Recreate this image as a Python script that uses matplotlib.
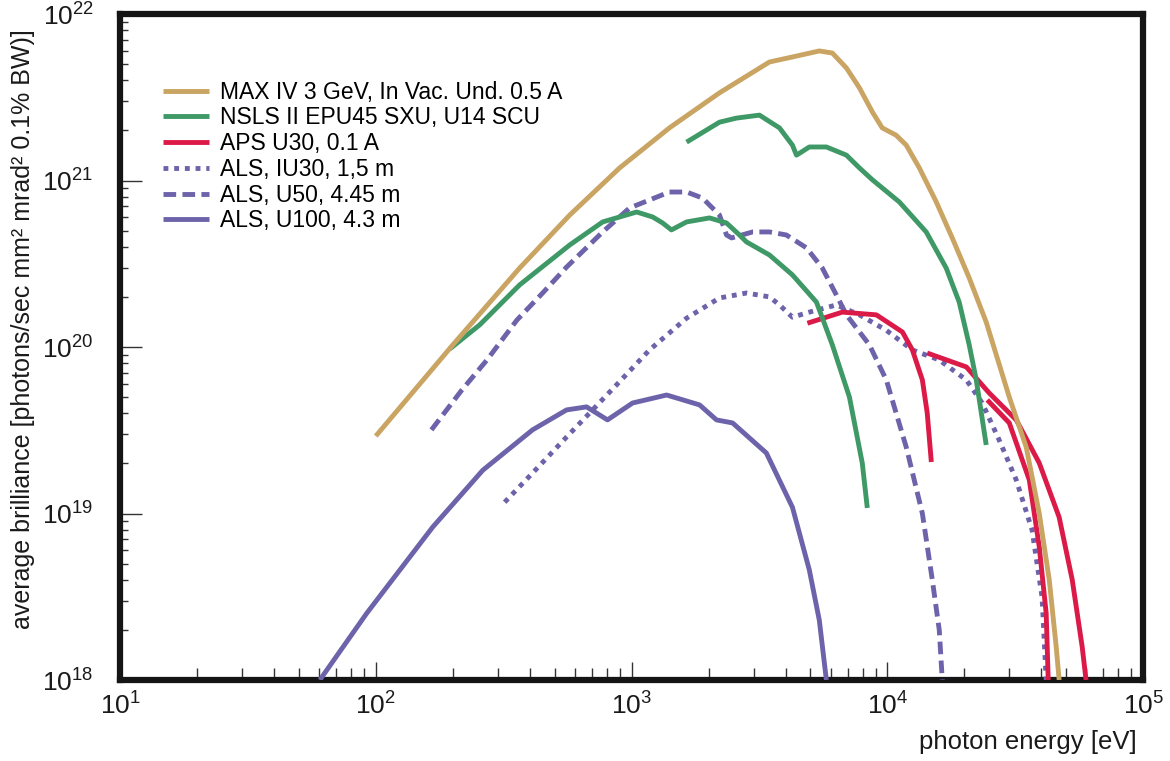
import numpy as np
import matplotlib
matplotlib.use("Agg")
import matplotlib.pyplot as plt
from matplotlib.ticker import LogLocator, NullFormatter

plt.rcParams.update({
    "font.family": ["Liberation Sans", "DejaVu Sans"],
    "mathtext.fontset": "custom",
    "mathtext.rm": "Liberation Sans",
    "mathtext.it": "Liberation Sans:italic",
    "mathtext.bf": "Liberation Sans:bold",
})

TAN, GREEN, RED, PURPLE = "#c9a462", "#3f9966", "#dc1a48", "#6c63aa"

# photon energy [eV] / average brilliance
maxiv_e = [100, 200, 365, 573, 898, 1406, 2206, 3460, 4256, 5420, 6095, 6920,
           7780, 8740, 9550, 10830, 11860, 13340, 15540, 17940, 20900, 24360,
           29980, 34930, 39270, 42960, 45740, 46970]
maxiv_b = [2.92e19, 1.03e20, 2.98e20, 6.2e20, 1.19e21, 2.07e21, 3.36e21,
           5.15e21, 5.52e21, 6.0e21, 5.83e21, 4.74e21, 3.6e21, 2.58e21,
           2.07e21, 1.87e21, 1.63e21, 1.19e21, 7.43e20, 4.52e20, 2.6e20,
           1.41e20, 5.0e19, 2.5e19, 1.0e19, 4.0e18, 1.58e18, 1.0e18]

nsls_soft_e = [194, 255, 365, 573, 771, 1047, 1209, 1322, 1432, 1641, 2018,
               2350, 2641, 2812, 3460, 4256, 5284, 6095, 7110, 7980, 8350]
nsls_soft_b = [9.7e19, 1.36e20, 2.36e20, 4.1e20, 5.64e20, 6.47e20, 6.04e20,
               5.56e20, 5.05e20, 5.64e20, 5.96e20, 5.56e20, 4.71e20, 4.28e20,
               3.57e20, 2.71e20, 1.86e20, 1.03e20, 5.0e19, 2.01e19, 1.08e19]
nsls_hard_e = [1641, 2206, 2570, 3162, 3787, 4256, 4414, 4955, 5777, 6920,
               7780, 8740, 11140, 14190, 16990, 19100, 20900, 22270, 24360]
nsls_hard_b = [1.70e21, 2.24e21, 2.37e21, 2.47e21, 2.07e21, 1.63e21, 1.42e21,
               1.59e21, 1.59e21, 1.42e21, 1.19e21, 1.01e21, 7.43e20, 4.91e20,
               2.98e20, 1.86e20, 1.03e20, 6.34e19, 2.58e19]

aps1_e = [4870, 6670, 9060, 11460, 12530, 13710, 14320, 14860]
aps1_b = [1.39e20, 1.62e20, 1.56e20, 1.23e20, 9.6e19, 6.34e19, 4.02e19, 2.04e19]
aps3_e = [14320, 20370, 25000, 31920, 39270, 46970, 52840, 57800, 59840]
aps3_b = [9.2e19, 7.59e19, 5.3e19, 3.65e19, 2.01e19, 9.5e18, 4.0e18, 1.58e18,
          1.0e18]
aps5_e = [24590, 29980, 35900, 39270, 41790, 42570]
aps5_b = [4.81e19, 3.5e19, 1.59e19, 6.3e18, 2.52e18, 1.0e18]

iu30_e = [319, 410, 557, 686, 873, 1175, 1641, 2206, 2812, 3460, 3787, 4256,
          4955, 6325, 7780, 9910, 12530, 15960, 20370, 23500, 27380, 31920,
          36810, 40270, 41790]
iu30_b = [1.17e19, 1.75e19, 2.88e19, 4.02e19, 5.92e19, 9.6e19, 1.49e20,
          1.97e20, 2.11e20, 2.0e20, 1.79e20, 1.51e20, 1.62e20, 1.79e20,
          1.56e20, 1.26e20, 9.6e19, 8.36e19, 6.34e19, 4.61e19, 2.76e19,
          1.59e19, 7.96e18, 3.15e18, 1.0e18]

u50_e = [165, 217, 272, 356, 449, 557, 771, 982, 1406, 1641, 1893, 2206,
         2350, 2460, 2973, 3460, 4027, 4830, 5570, 6325, 6920, 8510, 9910,
         11860, 13710, 14990, 15960, 16400]
u50_b = [3.18e19, 5.52e19, 8.36e19, 1.45e20, 2.11e20, 3.02e20, 4.91e20,
         6.84e20, 8.53e20, 8.53e20, 7.85e20, 6.21e20, 4.71e20, 4.52e20,
         4.91e20, 4.91e20, 4.71e20, 3.94e20, 2.98e20, 2.05e20, 1.56e20,
         1.03e20, 6.34e19, 2.5e19, 1.0e19, 4.0e18, 2.0e18, 1.0e18]

u100_e = [60.4, 92.2, 167, 262, 410, 557, 667, 805, 1009, 1371, 1845, 2148,
          2483, 3365, 4256, 4955, 5420, 5777]
u100_b = [1.0e18, 2.52e18, 8.3e18, 1.82e19, 3.18e19, 4.19e19, 4.37e19,
          3.65e19, 4.61e19, 5.15e19, 4.49e19, 3.65e19, 3.5e19, 2.31e19,
          1.09e19, 4.58e18, 2.29e18, 1.0e18]

fig = plt.figure(figsize=(11.7, 7.61), dpi=100)
ax = fig.add_axes([0.1026, 0.1064, 0.8744, 0.8752])

LW = 3.5
dot = (0, (1.0, 1.2))
dash = (0, (2.6, 1.3))
kw = dict(lw=LW, solid_capstyle="butt", dash_capstyle="butt")

ax.plot(maxiv_e, maxiv_b, color=TAN, zorder=8, label="MAX IV 3 GeV, In Vac. Und. 0.5 A", **kw)
ax.plot(nsls_soft_e, nsls_soft_b, color=GREEN, zorder=7, label="NSLS II EPU45 SXU, U14 SCU", **kw)
ax.plot(nsls_hard_e, nsls_hard_b, color=GREEN, zorder=7, **kw)
ax.plot(aps1_e, aps1_b, color=RED, zorder=6, label="APS U30, 0.1 A", **kw)
ax.plot(aps3_e, aps3_b, color=RED, zorder=6, **kw)
ax.plot(aps5_e, aps5_b, color=RED, zorder=6, **kw)
ax.plot(iu30_e, iu30_b, color=PURPLE, ls=dot, zorder=5, label="ALS, IU30, 1,5 m", **kw)
ax.plot(u50_e, u50_b, color=PURPLE, ls=dash, zorder=4, label="ALS, U50, 4.45 m", **kw)
ax.plot(u100_e, u100_b, color=PURPLE, zorder=3, label="ALS, U100, 4.3 m", **kw)

ax.set_xscale("log")
ax.set_yscale("log")
ax.set_xlim(10, 1e5)
ax.set_ylim(1e18, 1e22)

for s in ax.spines.values():
    s.set_linewidth(4.5)
    s.set_color("#151515")
ax.xaxis.set_major_locator(LogLocator(base=10, numticks=10))
ax.xaxis.set_minor_locator(LogLocator(base=10, subs=np.arange(2, 10), numticks=20))
ax.yaxis.set_major_locator(LogLocator(base=10, numticks=10))
ax.yaxis.set_minor_locator(LogLocator(base=10, subs=np.arange(2, 10), numticks=20))
ax.xaxis.set_minor_formatter(NullFormatter())
ax.yaxis.set_minor_formatter(NullFormatter())
ax.tick_params(which="both", direction="in", top=False, right=False,
               color="#333333", width=1.0, labelsize=19, labelcolor="#1a1a1a")
ax.tick_params(axis="x", which="major", length=13, pad=9)
ax.tick_params(axis="x", which="minor", length=9)
ax.tick_params(axis="y", which="major", length=16, pad=19)
ax.tick_params(axis="y", which="minor", length=6)

ax.set_xlabel("photon energy [eV]", fontsize=18.5, loc="right",
              color="#1a1a1a")
ax.xaxis.set_label_coords(0.994, -0.075)
ax.set_ylabel("average brilliance [photons/sec mm² mrad² 0.1% BW)]",
              fontsize=18, color="#1a1a1a")
ax.yaxis.set_label_coords(-0.083, 0.527)

ax.legend(loc="upper left", bbox_to_anchor=(0.042, 0.900), borderaxespad=0,
          borderpad=0, frameon=False, fontsize=16.5, handlelength=2.0,
          handletextpad=0.5, labelspacing=0.12)

fig.savefig("out.png", dpi=100, facecolor="white")
